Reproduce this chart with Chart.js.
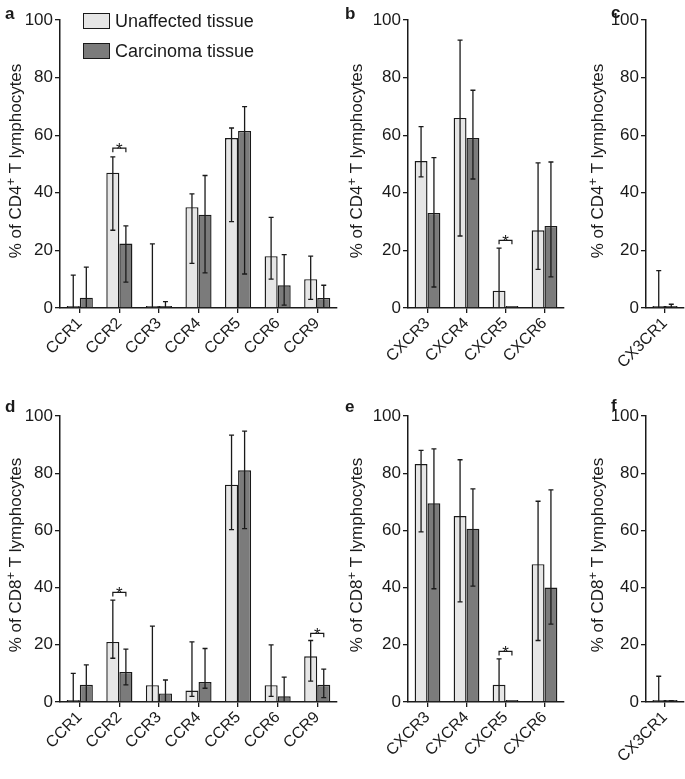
<!DOCTYPE html>
<html lang="en">
<head>
<meta charset="UTF-8">
<title>Chemokine receptors on CD4+ / CD8+ T lymphocytes</title>
<script src="https://cdn.jsdelivr.net/npm/chart.js"></script>
<style>
  body { margin: 0; background: #fff; font-family: "Liberation Sans", Arial, sans-serif; color: #1a1a1a; }
  #fig { position: relative; width: 685px; height: 779px; overflow: hidden; }
  canvas.panel { position: absolute; }
  .letter { position: absolute; font-weight: bold; font-size: 17px; line-height: 17px; }
  #legend { position: absolute; left: 83px; top: 13px; font-size: 18px; }
  .item { display: flex; align-items: center; height: 16px; margin-bottom: 14px; white-space: nowrap; }
  .swatch { width: 25px; height: 14px; border: 1px solid #1a1a1a; margin-right: 5px; }
</style>
</head>
<body>
<div id="fig">
  <canvas id="cv-a" class="panel" width="340" height="390" style="left:0;top:0"></canvas>
  <canvas id="cv-b" class="panel" width="230" height="390" style="left:340px;top:0"></canvas>
  <canvas id="cv-c" class="panel" width="105" height="390" style="left:580px;top:0"></canvas>
  <canvas id="cv-d" class="panel" width="340" height="389" style="left:0;top:390px"></canvas>
  <canvas id="cv-e" class="panel" width="230" height="389" style="left:340px;top:390px"></canvas>
  <canvas id="cv-f" class="panel" width="105" height="389" style="left:580px;top:390px"></canvas>
  <div class="letter" style="left:5px;top:5px">a</div>
  <div class="letter" style="left:345px;top:5px">b</div>
  <div class="letter" style="left:611px;top:4px">c</div>
  <div class="letter" style="left:5px;top:398px">d</div>
  <div class="letter" style="left:345px;top:398px">e</div>
  <div class="letter" style="left:611px;top:397px">f</div>
  <div id="legend"></div>
</div>

<script>
  const FONT = '"Liberation Sans", Arial, sans-serif';
  const INK = '#1a1a1a';

  const groups = ['Unaffected tissue', 'Carcinoma tissue'];
  const groupColors = ['#e6e6e6', '#7b7b7b'];

  const ccrLabels = ['CCR1', 'CCR2', 'CCR3', 'CCR4', 'CCR5', 'CCR6', 'CCR9'];
  const cxcrLabels = ['CXCR3', 'CXCR4', 'CXCR5', 'CXCR6'];
  const cx3crLabels = ['CX3CR1'];

  // a: CD4, CC receptors (bar, lower and upper whisker)
  const cd4CcrUnaff     = [0.4, 47, 0.4, 35, 59, 18, 10];
  const cd4CcrUnaffLow  = [0, 27, 0, 15.5, 30, 10, 3];
  const cd4CcrUnaffHigh = [11.4, 52.5, 22.3, 39.6, 62.5, 31.5, 18];
  const cd4CcrCarc      = [3.6, 22.4, 0.4, 32.4, 61.5, 7.9, 3.5];
  const cd4CcrCarcLow   = [0, 9, 0, 12.2, 11.8, 1, 0.3];
  const cd4CcrCarcHigh  = [14.2, 28.5, 2.2, 46, 69.9, 18.5, 7.9];
  const cd4CcrSig = [[1, 55.5]];

  // b: CD4, CXC receptors
  const cd4CxcrUnaff     = [51, 66, 6, 27];
  const cd4CxcrUnaffLow  = [45.5, 25, 0, 13.4];
  const cd4CxcrUnaffHigh = [63, 93, 20.8, 50.4];
  const cd4CxcrCarc      = [33, 59, 0.3, 28.5];
  const cd4CxcrCarcLow   = [7.3, 44.8, 0.3, 10.8];
  const cd4CxcrCarcHigh  = [52.2, 75.6, 0.3, 50.7];
  const cd4CxcrSig = [[2, 23.5]];

  // c: CD4, CX3CR1
  const cd4CxUnaff = [0.4], cd4CxUnaffLow = [0], cd4CxUnaffHigh = [13];
  const cd4CxCarc = [0.4], cd4CxCarcLow = [0], cd4CxCarcHigh = [1.3];

  // d: CD8, CC receptors
  const cd8CcrUnaff     = [0.4, 21, 5.9, 4, 76, 5.9, 16];
  const cd8CcrUnaffLow  = [0, 15.3, 0, 2, 60.3, 2, 7.3];
  const cd8CcrUnaffHigh = [10, 35.6, 26.5, 21, 93.3, 20, 21.5];
  const cd8CcrCarc      = [6, 10.5, 3, 7, 81, 2, 6];
  const cd8CcrCarcLow   = [0, 6, 0, 4.8, 60.6, 0, 1.5];
  const cd8CcrCarcHigh  = [13, 18.5, 7.7, 18.7, 94.7, 8.7, 11.5];
  const cd8CcrSig = [[1, 38.3], [6, 24]];

  // e: CD8, CXC receptors
  const cd8CxcrUnaff     = [83.2, 65, 6, 48.2];
  const cd8CxcrUnaffLow  = [59.5, 35, 0, 21.5];
  const cd8CxcrUnaffHigh = [88, 84.7, 15.1, 70.2];
  const cd8CxcrCarc      = [69.5, 60.6, 0.3, 40];
  const cd8CxcrCarcLow   = [39.6, 40.5, 0.3, 27.2];
  const cd8CxcrCarcHigh  = [88.5, 74.5, 0.3, 74.2];
  const cd8CxcrSig = [[2, 17.7]];

  // f: CD8, CX3CR1
  const cd8CxUnaff = [0.4], cd8CxUnaffLow = [0], cd8CxUnaffHigh = [9];
  const cd8CxCarc = [0.4], cd8CxCarcLow = [0], cd8CxCarcHigh = [0.5];

  // legend (html, built from the series names/colours)
  const legendEl = document.getElementById('legend');
  groups.forEach((g, k) => {
    legendEl.insertAdjacentHTML('beforeend',
      `<div class="item"><span class="swatch" style="background:${groupColors[k]}"></span>${g}</div>`);
  });

  const errorBars = {
    id: 'errorBars',
    afterDatasetsDraw(chart) {
      const { ctx } = chart;
      const y = chart.scales.y;
      ctx.save();
      ctx.strokeStyle = INK;
      ctx.lineWidth = 1.3;
      chart.data.datasets.forEach((ds, d) => {
        chart.getDatasetMeta(d).data.forEach((bar, i) => {
          const lo = ds.errLow[i], hi = ds.errHigh[i];
          if (hi - lo < 0.05) return;
          const x = bar.x, y1 = y.getPixelForValue(lo), y2 = y.getPixelForValue(hi);
          ctx.beginPath();
          ctx.moveTo(x, y1); ctx.lineTo(x, y2);
          ctx.moveTo(x - 2.5, y2); ctx.lineTo(x + 2.5, y2);
          if (lo > 0.5) { ctx.moveTo(x - 2.5, y1); ctx.lineTo(x + 2.5, y1); }
          ctx.stroke();
        });
      });
      ctx.restore();
    }
  };

  function sigMarks(items) {
    return {
      id: 'sigMarks',
      afterDatasetsDraw(chart) {
        const { ctx } = chart;
        const y = chart.scales.y;
        const m0 = chart.getDatasetMeta(0).data, m1 = chart.getDatasetMeta(1).data;
        ctx.save();
        ctx.strokeStyle = INK; ctx.fillStyle = INK; ctx.lineWidth = 1.2;
        ctx.font = '17px ' + FONT; ctx.textAlign = 'center'; ctx.textBaseline = 'alphabetic';
        items.forEach(([i, v]) => {
          const x1 = m0[i].x, x2 = m1[i].x, yy = y.getPixelForValue(v);
          ctx.beginPath();
          ctx.moveTo(x1, yy + 4); ctx.lineTo(x1, yy); ctx.lineTo(x2, yy); ctx.lineTo(x2, yy + 4);
          ctx.stroke();
          ctx.fillText('*', (x1 + x2) / 2, yy + 7);
        });
        ctx.restore();
      }
    };
  }

  function yTitle(cell, bx, dy) {
    return {
      id: 'yTitle',
      afterDraw(chart) {
        const { ctx, chartArea } = chart;
        const parts = [['% of ' + cell, 17, 0], ['+', 13, -6], [' T lymphocytes', 17, 0]];
        ctx.save();
        ctx.translate(bx, (chartArea.top + chartArea.bottom) / 2 + dy);
        ctx.rotate(-Math.PI / 2);
        ctx.fillStyle = INK; ctx.textAlign = 'left'; ctx.textBaseline = 'alphabetic';
        let total = 0;
        parts.forEach(p => { ctx.font = p[1] + 'px ' + FONT; total += ctx.measureText(p[0]).width; });
        let x = -total / 2;
        parts.forEach(p => {
          ctx.font = p[1] + 'px ' + FONT;
          ctx.fillText(p[0], x, p[2]);
          x += ctx.measureText(p[0]).width;
        });
        ctx.restore();
      }
    };
  }

  function makePanel(id, labels, u, c, cell, sig, box) {
    new Chart(document.getElementById('cv-' + id), {
      type: 'bar',
      data: {
        labels: labels,
        datasets: [
          { label: groups[0], data: u[0], errLow: u[1], errHigh: u[2],
            backgroundColor: groupColors[0], borderColor: INK, borderWidth: 1.4 },
          { label: groups[1], data: c[0], errLow: c[1], errHigh: c[2],
            backgroundColor: groupColors[1], borderColor: INK, borderWidth: 1.4 }
        ]
      },
      options: {
        responsive: false,
        animation: false,
        devicePixelRatio: 1,
        datasets: { bar: { categoryPercentage: 0.66, barPercentage: 1, minBarLength: 2 } },
        layout: { padding: { top: box.top, right: box.right, left: 0, bottom: 0 } },
        plugins: { legend: { display: false }, tooltip: { enabled: false } },
        scales: {
          x: {
            grid: { offset: false, drawOnChartArea: false, color: INK, tickLength: 5, lineWidth: 1.3 },
            border: { color: INK, width: 1.5 },
            ticks: { color: INK, font: { family: FONT, size: 16 }, minRotation: 45, maxRotation: 45,
                     padding: 1, autoSkip: false },
            afterFit: s => { s.height = box.xh; }
          },
          y: {
            min: 0, max: 100,
            grid: { drawOnChartArea: false, color: INK, tickLength: 5, lineWidth: 1.3 },
            border: { color: INK, width: 1.5 },
            ticks: { stepSize: 20, color: INK, font: { family: FONT, size: 17 }, padding: 2 },
            afterFit: s => { s.width = box.yw; }
          }
        }
      },
      plugins: [errorBars, sigMarks(sig), yTitle(cell, box.tx, box.tdy)]
    });
  }

  makePanel('a', ccrLabels,
    [cd4CcrUnaff, cd4CcrUnaffLow, cd4CcrUnaffHigh], [cd4CcrCarc, cd4CcrCarcLow, cd4CcrCarcHigh],
    'CD4', cd4CcrSig, { yw: 60, top: 20, right: 3, xh: 82, tx: 21, tdy: -3 });
  makePanel('b', cxcrLabels,
    [cd4CxcrUnaff, cd4CxcrUnaffLow, cd4CxcrUnaffHigh], [cd4CxcrCarc, cd4CxcrCarcLow, cd4CxcrCarcHigh],
    'CD4', cd4CxcrSig, { yw: 68, top: 20, right: 6, xh: 82, tx: 22, tdy: -3 });
  makePanel('c', cx3crLabels,
    [cd4CxUnaff, cd4CxUnaffLow, cd4CxUnaffHigh], [cd4CxCarc, cd4CxCarcLow, cd4CxCarcHigh],
    'CD4', [], { yw: 66, top: 20, right: 1, xh: 82, tx: 23, tdy: -3 });
  makePanel('d', ccrLabels,
    [cd8CcrUnaff, cd8CcrUnaffLow, cd8CcrUnaffHigh], [cd8CcrCarc, cd8CcrCarcLow, cd8CcrCarcHigh],
    'CD8', cd8CcrSig, { yw: 60, top: 26, right: 3, xh: 77, tx: 21, tdy: -4 });
  makePanel('e', cxcrLabels,
    [cd8CxcrUnaff, cd8CxcrUnaffLow, cd8CxcrUnaffHigh], [cd8CxcrCarc, cd8CxcrCarcLow, cd8CxcrCarcHigh],
    'CD8', cd8CxcrSig, { yw: 68, top: 26, right: 6, xh: 77, tx: 22, tdy: -4 });
  makePanel('f', cx3crLabels,
    [cd8CxUnaff, cd8CxUnaffLow, cd8CxUnaffHigh], [cd8CxCarc, cd8CxCarcLow, cd8CxCarcHigh],
    'CD8', [], { yw: 66, top: 26, right: 1, xh: 77, tx: 23, tdy: -4 });
</script>
</body>
</html>
